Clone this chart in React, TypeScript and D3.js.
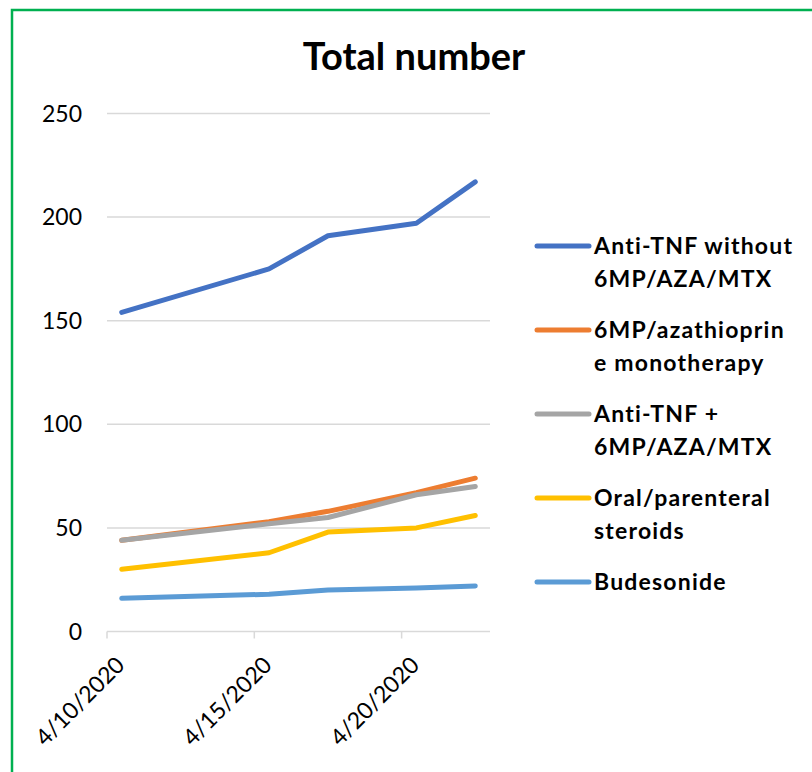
import * as d3 from "d3";
import React, { useEffect, useRef } from "react";

const dates = ["2020-04-10", "2020-04-15", "2020-04-17", "2020-04-20", "2020-04-22"];

const antiTnf = [154, 175, 191, 197, 217];
const mpAza = [44, 53, 58, 67, 74];
const antiTnfCombo = [44, 52, 55, 66, 70];
const steroids = [30, 38, 48, 50, 56];
const budesonide = [16, 18, 20, 21, 22];

const seriesNames = [
  ["Anti-TNF without", "6MP/AZA/MTX"],
  ["6MP/azathioprin", "e monotherapy"],
  ["Anti-TNF +", "6MP/AZA/MTX"],
  ["Oral/parenteral", "steroids"],
  ["Budesonide"],
];
const seriesValues = [antiTnf, mpAza, antiTnfCombo, steroids, budesonide];
const seriesColors = ["#4472C4", "#ED7D31", "#A5A5A5", "#FFC000", "#5B9BD5"];

const yTicks = [0, 50, 100, 150, 200, 250];
const xTicks = ["2020-04-10", "2020-04-15", "2020-04-20"];

const font = "Lato, 'Open Sans', sans-serif";

const App: React.FC = () => {
  const svgRef = useRef<SVGSVGElement | null>(null);

  useEffect(() => {
    const svg = d3.select(svgRef.current);
    svg.selectAll("*").remove();
    const width = 812;
    const height = 772;
    svg.attr("width", width).attr("height", height);

    const parse = d3.utcParse("%Y-%m-%d");
    const x = d3
      .scaleUtc()
      .domain([parse("2020-04-10")!, parse("2020-04-23")!])
      .range([107, 490]);
    const y = d3.scaleLinear().domain([0, 250]).range([631.5, 113.5]);
    // points sit in the middle of their day, like Excel's date axis
    const xMid = (d: string) => x(d3.utcHour.offset(parse(d)!, 12));

    svg.append("rect").attr("width", width).attr("height", height).attr("fill", "#fff");

    // green frame (only top and left visible)
    svg
      .append("path")
      .attr("d", `M12,${height} V10 H${width}`)
      .attr("fill", "none")
      .attr("stroke", "#00B050")
      .attr("stroke-width", 2.5);

    // title
    svg
      .append("text")
      .attr("x", 414)
      .attr("y", 70)
      .attr("text-anchor", "middle")
      .attr("font-family", font)
      .attr("font-weight", "bold")
      .attr("font-size", 38)
      .text("Total number");

    // gridlines
    svg
      .append("g")
      .selectAll("line")
      .data(yTicks.filter((t) => t > 0))
      .join("line")
      .attr("x1", 107)
      .attr("x2", 490)
      .attr("y1", (d) => y(d))
      .attr("y2", (d) => y(d))
      .attr("stroke", "#D9D9D9")
      .attr("stroke-width", 1.5);

    // y labels
    svg
      .append("g")
      .selectAll("text")
      .data(yTicks)
      .join("text")
      .attr("x", 82)
      .attr("y", (d) => y(d) + 8)
      .attr("text-anchor", "end")
      .attr("font-family", font)
      .attr("font-size", 23)
      .attr("fill", "#000")
      .text((d) => d);

    // x axis
    svg
      .append("line")
      .attr("x1", 107)
      .attr("x2", 490)
      .attr("y1", y(0))
      .attr("y2", y(0))
      .attr("stroke", "#D9D9D9")
      .attr("stroke-width", 1.5);
    svg
      .append("g")
      .selectAll("line")
      .data(xTicks)
      .join("line")
      .attr("x1", (d) => x(parse(d)!))
      .attr("x2", (d) => x(parse(d)!))
      .attr("y1", y(0))
      .attr("y2", y(0) + 7)
      .attr("stroke", "#D9D9D9")
      .attr("stroke-width", 1.5);

    const fmt = d3.utcFormat("%-m/%-d/%Y");
    svg
      .append("g")
      .selectAll("text")
      .data(xTicks)
      .join("text")
      .attr("transform", (d) => `translate(${x(parse(d)!) + 19},${y(0) + 35}) rotate(-45)`)
      .attr("text-anchor", "end")
      .attr("font-family", font)
      .attr("font-size", 23)
      .text((d) => fmt(parse(d)!));

    // lines
    const line = d3
      .line<number>()
      .x((_, i) => xMid(dates[i]))
      .y((v) => y(v));

    svg
      .append("g")
      .selectAll("path")
      .data(seriesValues)
      .join("path")
      .attr("d", (d) => line(d))
      .attr("fill", "none")
      .attr("stroke", (_, i) => seriesColors[i])
      .attr("stroke-width", 5)
      .attr("stroke-linecap", "round")
      .attr("stroke-linejoin", "round");

    // legend
    const legendY = [246, 330, 414, 498, 582];
    const lg = svg
      .append("g")
      .selectAll("g")
      .data(seriesNames)
      .join("g")
      .attr("transform", (_, i) => `translate(0,${legendY[i]})`);
    lg.append("line")
      .attr("x1", 537)
      .attr("x2", 589)
      .attr("stroke", (_, i) => seriesColors[i])
      .attr("stroke-width", 5)
      .attr("stroke-linecap", "round");
    lg.append("text")
      .attr("font-family", font)
      .attr("font-weight", "bold")
      .attr("font-size", 23)
      .attr("letter-spacing", 1.2)
      .selectAll("tspan")
      .data((d) => d)
      .join("tspan")
      .attr("x", 594)
      .attr("y", (_, j) => 8 + j * 33)
      .text((d) => d);
  }, []);

  return <svg ref={svgRef} style={{ position: "absolute", left: 0, top: 0 }} />;
};

export default App;
